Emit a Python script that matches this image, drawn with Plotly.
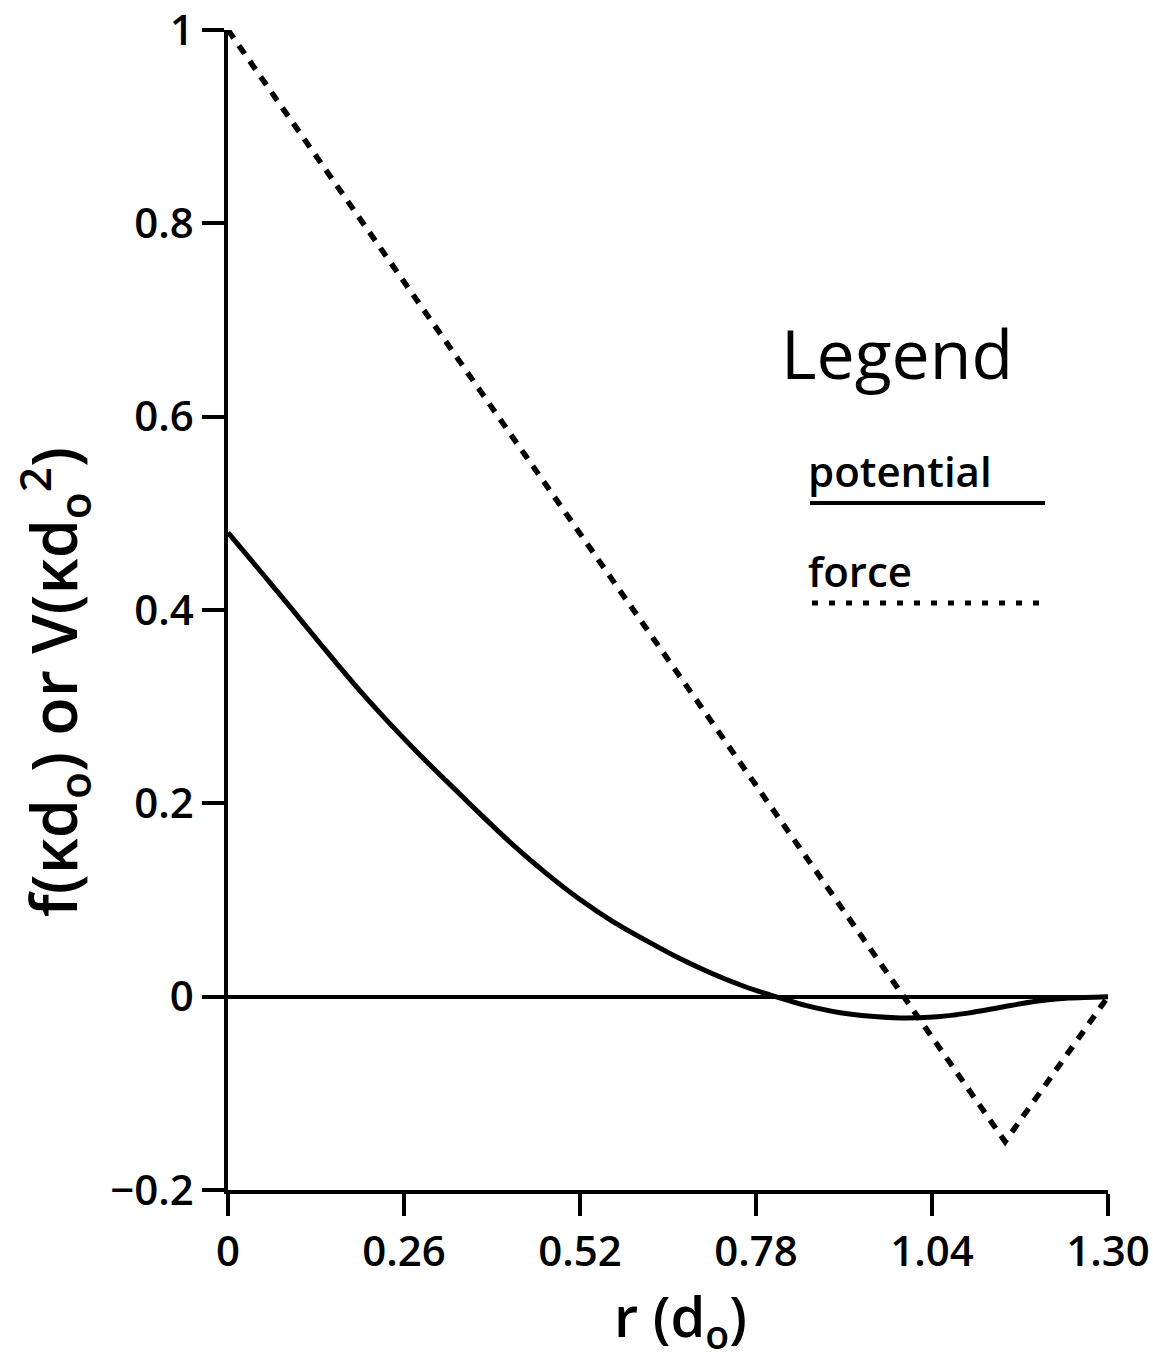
import plotly.graph_objects as go

# ---------------- data ----------------
r_potential = [0.0, 0.042, 0.092, 0.140, 0.188, 0.237, 0.285, 0.333, 0.377,
               0.421, 0.471, 0.519, 0.568, 0.618, 0.666, 0.715, 0.765, 0.800,
               0.859, 0.918, 0.993, 1.042, 1.093, 1.142, 1.191, 1.242, 1.30]
v_potential = [0.480, 0.445, 0.403, 0.362, 0.322, 0.284, 0.249, 0.216, 0.186,
               0.157, 0.127, 0.101, 0.078, 0.058, 0.040, 0.024, 0.010, 0.002,
               -0.010, -0.018, -0.022, -0.021, -0.017, -0.011, -0.005, -0.0015, 0.0]

r_force = [0.0, 1.148, 1.30]
f_force = [1.0, -0.150, 0.0]

x_ticks = [0, 0.26, 0.52, 0.78, 1.04, 1.30]
x_ticklabels = ["0", "0.26", "0.52", "0.78", "1.04", "1.30"]
y_ticks = [-0.2, 0, 0.2, 0.4, 0.6, 0.8, 1.0]
y_ticklabels = ["\u22120.2", "0", "0.2", "0.4", "0.6", "0.8", "1"]

# ---------------- layout geometry ----------------
W, H = 1153, 1361
L, R, T, B = 228, 45, 30, 171
FONT = "Open Sans"


def px_to_paper(px, py):
    return (px - L) / (W - L - R), (H - B - py) / (H - T - B)


fig = go.Figure()

fig.add_trace(go.Scatter(
    x=r_potential, y=v_potential, mode="lines", name="potential",
    line=dict(color="black", width=5, shape="spline", smoothing=0.8),
    showlegend=False, hoverinfo="skip"))

fig.add_trace(go.Scatter(
    x=r_force, y=f_force, mode="lines", name="force",
    line=dict(color="black", width=5.5, dash="10px,9px"),
    showlegend=False, hoverinfo="skip"))

tickfont = dict(family=FONT, size=42, color="black", weight=600)
axis_common = dict(
    showline=True, linecolor="black", linewidth=3.5,
    ticks="outside", ticklen=22, tickwidth=3.5, tickcolor="black",
    showgrid=False, mirror=False, automargin=False,
    ticklabeloverflow="allow",
    tickfont=tickfont,
)

fig.update_xaxes(
    range=[0, 1.30], tickvals=x_ticks, ticktext=x_ticklabels,
    zeroline=False, **axis_common)

fig.update_yaxes(
    range=[-0.2, 1.0], tickvals=y_ticks, ticktext=y_ticklabels,
    zeroline=True, zerolinecolor="black", zerolinewidth=3.5,
    **axis_common)

annotations = []
# axis titles
x0, y0 = px_to_paper(680, 1318)
annotations.append(dict(text="r (d<sub>o</sub>)", x=x0, y=y0, xref="paper", yref="paper",
                        xanchor="center", yanchor="middle", showarrow=False,
                        font=dict(family=FONT, size=56, color="black", weight=600)))
x0, y0 = px_to_paper(54, 682)
annotations.append(dict(text="f(\u03bad<sub>o</sub>) or V(\u03bad<sub>o</sub><sup>2</sup>)",
                        x=x0, y=y0, xref="paper", yref="paper", textangle=-90,
                        xanchor="center", yanchor="middle", showarrow=False,
                        font=dict(family=FONT, size=63, color="black", weight=600)))

# legend (text + sample lines)
x0, y0 = px_to_paper(897, 352)
annotations.append(dict(text="Legend", x=x0, y=y0, xref="paper", yref="paper",
                        xanchor="center", yanchor="middle", showarrow=False,
                        font=dict(family=FONT, size=68, color="black")))
x0, y0 = px_to_paper(806, 470)
annotations.append(dict(text="potential", x=x0, y=y0, xref="paper", yref="paper",
                        xanchor="left", yanchor="middle", showarrow=False,
                        font=dict(family=FONT, size=42, color="black", weight=600)))
x0, y0 = px_to_paper(806, 570)
annotations.append(dict(text="force", x=x0, y=y0, xref="paper", yref="paper",
                        xanchor="left", yanchor="middle", showarrow=False,
                        font=dict(family=FONT, size=42, color="black", weight=600)))

shapes = []
xa, ya = px_to_paper(810, 503)
xb, _ = px_to_paper(1045, 503)
shapes.append(dict(type="line", xref="paper", yref="paper", x0=xa, x1=xb, y0=ya, y1=ya,
                   line=dict(color="black", width=4)))
xa, ya = px_to_paper(812, 603)
xb, _ = px_to_paper(1046, 603)
shapes.append(dict(type="line", xref="paper", yref="paper", x0=xa, x1=xb, y0=ya, y1=ya,
                   line=dict(color="black", width=5, dash="6px,11px")))

fig.update_layout(
    width=W, height=H,
    margin=dict(l=L, r=R, t=T, b=B, autoexpand=False),
    paper_bgcolor="white", plot_bgcolor="white",
    font=dict(family=FONT, color="black"),
    annotations=annotations, shapes=shapes,
    showlegend=False,
)

fig.write_html("out.html")
